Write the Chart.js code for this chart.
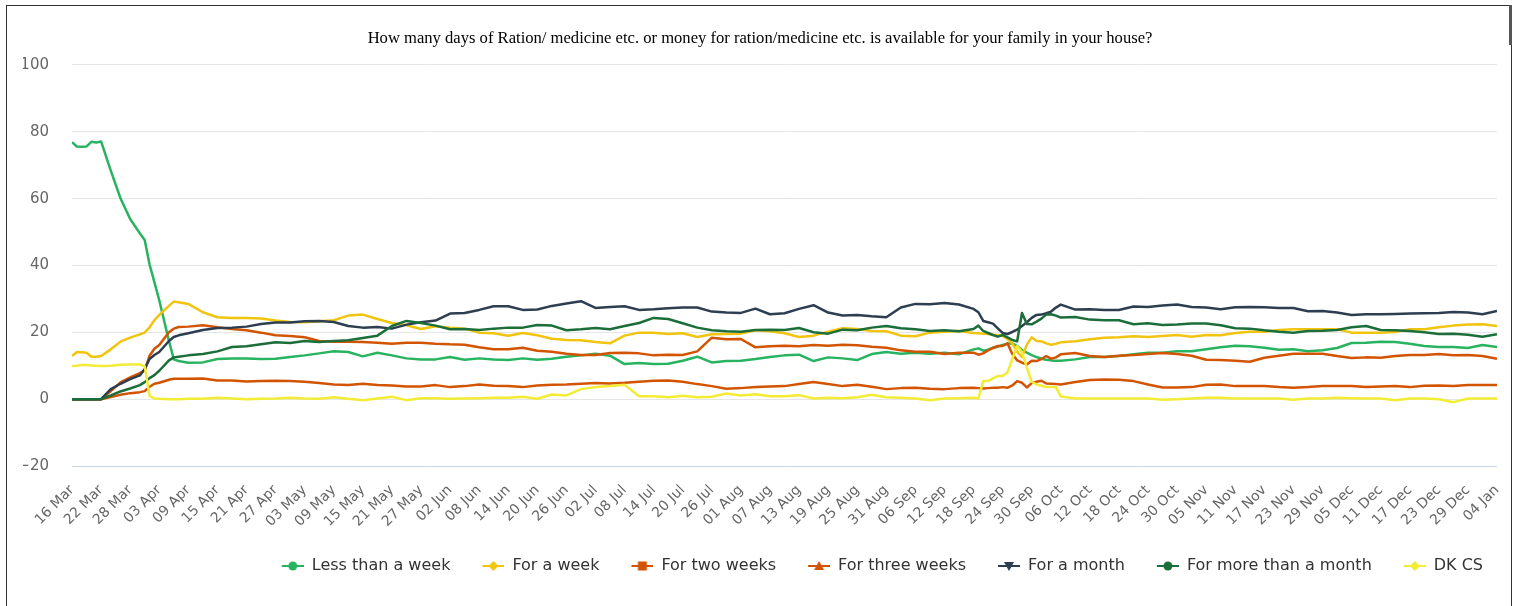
<!DOCTYPE html>
<html>
<head>
<meta charset="utf-8">
<title>Ration / medicine availability</title>
<script src="https://cdn.jsdelivr.net/npm/chart.js@4.4.1/dist/chart.umd.min.js"></script>
<style>
body { margin: 0; background: #fff; }
#wrap { position: relative; width: 1520px; height: 606px; overflow: hidden; }
#frame { position: absolute; left: 6px; top: 5px; width: 1504px; height: 640px; border: 1px solid #333; pointer-events: none; }
#bar { position: absolute; left: 1509px; top: 5px; width: 3px; height: 40px; background: #555; }
</style>
</head>
<body>
<div id="wrap">
<canvas id="chart" width="1520" height="606"></canvas>
<div id="frame"></div>
<div id="bar"></div>
</div>
<script>
const title = "How many days of Ration/ medicine etc. or money for ration/medicine etc. is available for your family in your house?";

const tickLabels = ["16 Mar","22 Mar","28 Mar","03 Apr","09 Apr","15 Apr","21 Apr","27 Apr","03 May","09 May",
"15 May","21 May","27 May","02 Jun","08 Jun","14 Jun","20 Jun","26 Jun","02 Jul","08 Jul",
"14 Jul","20 Jul","26 Jul","01 Aug","07 Aug","13 Aug","19 Aug","25 Aug","31 Aug","06 Sep",
"12 Sep","18 Sep","24 Sep","30 Sep","06 Oct","12 Oct","18 Oct","24 Oct","30 Oct","05 Nov",
"11 Nov","17 Nov","23 Nov","29 Nov","05 Dec","11 Dec","17 Dec","23 Dec","29 Dec","04 Jan"];

// day offsets from 16 Mar
const days = [0,1,2,3,4,5,6,8,10,12,14,15,16,17,18,20,21,22,24,
27,30,33,36,39,42,45,48,51,54,57,60,63,66,69,72,75,78,81,84,87,90,93,96,99,102,105,108,111,114,117,120,
123,126,129,132,135,138,141,144,147,150,153,156,159,162,165,168,171,174,177,180,183,186,
187,188,189,190,191,192,193,194,195,196,197,198,199,200,201,202,203,204,
207,210,213,216,219,222,225,228,231,234,237,240,243,246,249,252,255,258,261,264,267,270,273,276,279,282,285,288,291,294];

const lessThanWeek = [76.9,75.6,75.5,75.6,77.0,76.8,77.1,68.4,60.1,53.9,49.6,47.6,40.3,35.0,29.6,17.4,11.9,11.4,10.9,
11.0,12.0,12.2,12.2,12.0,12.1,12.6,13.1,13.7,14.3,14.1,12.8,13.9,13.1,12.2,11.9,11.9,12.6,11.8,12.2,11.9,11.7,12.2,11.8,12.1,12.7,13.1,13.6,13.0,10.5,10.8,10.5,
10.6,11.5,12.7,11.0,11.4,11.5,12.0,12.6,13.1,13.3,11.4,12.5,12.2,11.7,13.5,14.1,13.6,13.9,13.6,13.9,13.4,14.9,
15.2,14.5,14.8,15.4,15.7,16.2,16.6,16.7,15.9,14.7,13.9,13.2,12.6,12.1,11.8,11.6,11.5,11.5,
11.9,12.6,12.6,12.9,13.4,13.9,13.9,14.3,14.3,14.9,15.5,16.0,15.8,15.4,14.8,14.9,14.3,14.6,15.3,16.8,16.9,17.2,17.1,16.6,15.9,15.6,15.6,15.3,16.2,15.6];

const forWeek = [12.9,14.1,14.0,13.9,12.7,12.7,12.9,14.9,17.2,18.4,19.4,19.9,21.5,23.6,25.2,27.9,29.2,29.0,28.5,
26.0,24.5,24.3,24.3,24.1,23.5,23.1,23.0,23.3,23.6,25.0,25.3,24.0,22.8,22.1,21.0,21.8,21.4,21.1,19.9,19.7,19.0,19.8,19.1,18.1,17.7,17.6,17.1,16.7,19.0,19.9,19.9,
19.5,19.7,18.6,19.4,19.5,19.6,20.6,20.3,19.7,18.6,19.0,20.2,21.2,21.0,20.4,20.3,19.0,18.8,19.9,20.2,20.4,19.8,
19.7,19.6,19.5,19.3,19.2,18.9,18.0,16.7,14.2,12.6,16.3,18.5,17.4,17.3,16.7,16.3,16.6,17.0,
17.3,17.9,18.4,18.5,18.8,18.6,18.9,19.2,18.7,19.2,19.1,19.8,20.2,20.2,20.7,20.9,20.9,20.9,20.9,19.9,19.9,19.9,20.1,20.9,20.9,21.5,22.0,22.3,22.4,21.9];

const twoWeeks = [0,0,0,0,0,0,0,2.4,5.0,6.5,7.8,8.6,13.0,15.1,16.2,20.0,21.1,21.6,21.7,
22.1,21.5,21.0,20.6,19.9,19.1,18.9,18.5,17.4,17.2,17.2,17.1,16.9,16.6,16.9,16.9,16.6,16.4,16.3,15.5,14.9,14.9,15.4,14.5,14.2,13.6,13.2,13.2,13.8,13.9,13.7,13.1,
13.3,13.2,14.3,18.4,17.9,18.0,15.5,15.8,16.0,15.8,16.2,16.0,16.3,16.1,15.7,15.4,14.6,14.2,14.2,13.5,13.9,13.9,
13.3,13.7,14.6,15.3,15.9,15.9,16.7,13.5,11.6,10.9,10.4,11.5,11.4,12.0,12.9,12.1,12.5,13.4,
13.8,12.9,12.6,13.0,13.2,13.5,13.8,13.5,13.0,11.8,11.7,11.5,11.2,12.4,13.0,13.6,13.6,13.6,12.9,12.3,12.5,12.4,12.9,13.2,13.2,13.5,13.1,13.2,12.9,12.1];

const threeWeeks = [0,0,0,0,0,0,0,0.6,1.3,1.8,2.1,2.4,3.7,4.6,4.9,5.8,6.1,6.1,6.1,
6.2,5.6,5.6,5.3,5.4,5.5,5.4,5.2,4.8,4.4,4.2,4.6,4.2,4.1,3.8,3.8,4.2,3.6,3.9,4.4,4.0,3.9,3.6,4.1,4.3,4.4,4.6,4.8,4.7,4.9,5.2,5.5,
5.6,5.2,4.5,3.9,3.1,3.3,3.6,3.8,3.9,4.5,5.1,4.5,3.9,4.3,3.7,3.0,3.3,3.4,3.1,3.0,3.3,3.4,
3.3,3.2,3.3,3.4,3.4,3.6,3.4,4.1,5.4,4.9,3.5,4.8,5.2,5.5,4.7,4.6,4.5,4.4,
5.1,5.7,5.9,5.8,5.4,4.4,3.5,3.5,3.6,4.3,4.4,3.9,3.9,3.9,3.6,3.4,3.6,3.9,3.9,3.9,3.6,3.8,3.9,3.6,4.0,4.1,3.9,4.2,4.2,4.2];

const forMonth = [0,0,0,0,0,0,0,3.0,4.6,6.0,7.1,9.0,12.0,13.2,14.1,17.4,18.6,19.1,19.7,
20.7,21.3,21.4,21.7,22.5,22.9,22.9,23.3,23.4,23.1,21.9,21.4,21.6,21.1,22.3,23.0,23.5,25.6,25.8,26.7,27.8,27.8,26.7,26.8,27.9,28.6,29.3,27.3,27.6,27.8,26.7,26.9,
27.2,27.4,27.4,26.2,25.9,25.8,27.1,25.4,25.7,27.0,28.1,25.9,25.0,25.2,24.8,24.5,27.4,28.5,28.4,28.8,28.3,27.0,
26.0,23.4,23.0,22.6,21.2,19.8,19.5,20.1,20.8,21.9,23.0,24.3,25.2,25.3,25.7,26.2,27.4,28.3,
26.8,26.9,26.7,26.7,27.7,27.6,28.0,28.3,27.6,27.4,26.9,27.5,27.6,27.5,27.3,27.3,26.3,26.4,25.9,25.2,25.4,25.4,25.5,25.6,25.7,25.8,26.1,25.9,25.4,26.4];

const moreThanMonth = [0,0,0,0,0,0,0,1.1,2.3,3.2,4.2,5.1,6.3,7.2,8.5,11.6,12.5,12.7,13.1,
13.5,14.3,15.6,15.8,16.4,17.0,16.8,17.4,17.1,17.4,17.6,18.3,19.0,21.9,23.4,22.8,22.0,20.9,21.0,20.7,21.1,21.4,21.4,22.2,22.0,20.6,20.9,21.3,20.9,21.9,22.8,24.3,
24.0,22.7,21.4,20.6,20.3,20.2,20.7,20.8,20.7,21.3,20.0,19.6,20.8,20.6,21.4,21.9,21.2,20.9,20.4,20.6,20.3,21.0,
22.0,20.4,19.8,19.2,18.7,19.2,18.5,17.7,17.3,25.8,22.5,22.4,23.2,24.1,25.3,25.4,25.0,24.4,
24.6,23.8,23.6,23.6,22.4,22.7,22.2,22.3,22.6,22.6,22.1,21.2,21.1,20.6,20.2,19.9,20.4,20.5,20.7,21.5,21.9,20.7,20.6,20.4,20.0,19.5,19.6,19.3,18.7,19.4];

const dkcs = [9.9,10.0,10.2,10.2,10.1,10.0,9.9,10.0,10.3,10.4,10.4,9.8,1.0,0.2,0.1,0,0,0,0.1,
0.1,0.4,0.2,0,0.1,0.2,0.4,0.2,0.1,0.6,0.1,-0.3,0.2,0.7,-0.3,0.3,0.3,0.1,0.2,0.3,0.4,0.4,0.7,0.1,1.4,1.1,3.0,3.6,3.9,4.3,0.9,0.9,
0.6,1.0,0.6,0.7,1.7,1.1,1.5,0.9,0.9,1.2,0.2,0.4,0.3,0.6,1.3,0.6,0.4,0.2,-0.3,0.2,0.3,0.4,
0.2,5.4,5.4,6.2,6.9,6.9,8.0,12.0,15.9,14.1,9.4,5.2,4.4,4.0,3.6,3.6,3.6,0.8,
0.2,0.2,0.2,0.2,0.2,0.2,-0.2,0.0,0.2,0.4,0.4,0.2,0.2,0.2,0.2,-0.2,0.2,0.2,0.4,0.3,0.2,0.2,-0.3,0.2,0.2,0.0,-0.9,0.2,0.2,0.2];

const seriesNames = ["Less than a week","For a week","For two weeks","For three weeks","For a month","For more than a month","DK CS"];
const seriesData = [lessThanWeek, forWeek, twoWeeks, threeWeeks, forMonth, moreThanMonth, dkcs];
const colors = ["#27b35f","#f1c40f","#d35400","#d35400","#2c3e50","#1b6e3a","#f2ec35"];
const markers = ["circle","diamond","square","triangle","triangle-down","circle","diamond"];

// legend symbol: short line with the marker on it
function legendSymbol(color, shape) {
  const c = document.createElement("canvas");
  c.width = 40; c.height = 14;
  const g = c.getContext("2d");
  const cx = 29, cy = 7;
  g.strokeStyle = color; g.lineWidth = 2;
  g.beginPath(); g.moveTo(18, cy); g.lineTo(40, cy); g.stroke();
  g.fillStyle = color;
  g.beginPath();
  if (shape == "circle") g.arc(cx, cy, 4.5, 0, Math.PI * 2);
  if (shape == "diamond") { g.moveTo(cx, cy - 5); g.lineTo(cx + 5, cy); g.lineTo(cx, cy + 5); g.lineTo(cx - 5, cy); }
  if (shape == "square") g.rect(cx - 4.5, cy - 4.5, 9, 9);
  if (shape == "triangle") { g.moveTo(cx, cy - 5); g.lineTo(cx + 5, cy + 4); g.lineTo(cx - 5, cy + 4); }
  if (shape == "triangle-down") { g.moveTo(cx, cy + 5); g.lineTo(cx + 5, cy - 4); g.lineTo(cx - 5, cy - 4); }
  g.closePath(); g.fill();
  return c;
}

const datasets = seriesNames.map((name, i) => ({
  label: name,
  data: days.map((d, j) => ({ x: d, y: seriesData[i][j] })),
  borderColor: colors[i],
  backgroundColor: colors[i],
  borderWidth: 2.5,
  borderJoinStyle: "round",
  pointRadius: 0,
  tension: 0,
  order: seriesNames.length - i,
  symbol: legendSymbol(colors[i], markers[i])
}));

new Chart(document.getElementById("chart"), {
  type: "line",
  data: { datasets: datasets },
  options: {
    responsive: false,
    animation: false,
    layout: { padding: { left: 23, right: 23, top: 0, bottom: 22 } },
    scales: {
      x: {
        type: "linear",
        min: 0,
        max: 294,
        grid: { display: false },
        border: { display: false },
        ticks: {
          stepSize: 6,
          autoSkip: false,
          minRotation: 45,
          maxRotation: 45,
          padding: 8,
          color: "#666",
          font: { family: "DejaVu Sans", size: 14 },
          callback: v => tickLabels[Math.round(v / 6)]
        },
        afterFit: s => { s.height = 78; }
      },
      y: {
        min: -20,
        max: 100,
        border: { display: false },
        grid: {
          drawTicks: false,
          color: c => c.tick && c.tick.value === -20 ? "#ccd6eb" : "#e6e6e6"
        },
        ticks: {
          stepSize: 20,
          padding: 23,
          color: "#666",
          font: { family: "DejaVu Sans", size: 15 },
          callback: v => String(v).replace("-", "\u2212")
        },
        afterFit: s => { s.width = 49; }
      }
    },
    plugins: {
      title: {
        display: true,
        text: title,
        color: "#000",
        font: { family: "Liberation Serif", size: 16.6, weight: "normal" },
        padding: { top: 29, bottom: 16 }
      },
      legend: {
        position: "bottom",
        align: "end",
        labels: {
          usePointStyle: true,
          pointStyleWidth: 40,
          padding: 14,
          color: "#333",
          font: { family: "DejaVu Sans", size: 16 },
          generateLabels: chart => chart.data.datasets.map((ds, i) => ({
            text: ds.label,
            pointStyle: ds.symbol,
            fillStyle: ds.borderColor,
            strokeStyle: ds.borderColor,
            lineWidth: 0,
            hidden: false,
            datasetIndex: i,
            fontColor: "#333"
          }))
        }
      },
      tooltip: { enabled: false }
    }
  }
});
</script>
</body>
</html>
